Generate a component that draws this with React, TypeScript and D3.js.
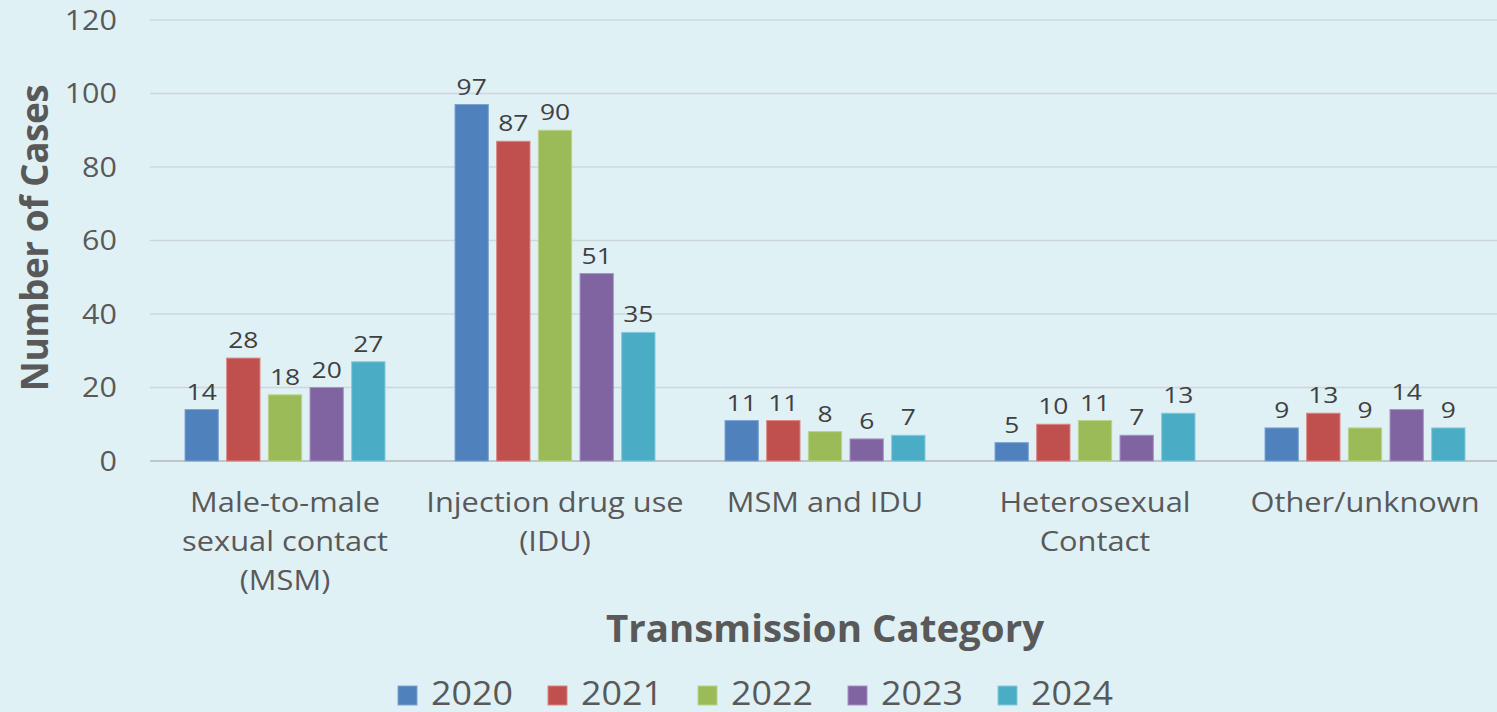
import React from "react";
import * as d3 from "d3";

const categories = [
  ["Male-to-male", "sexual contact", "(MSM)"],
  ["Injection drug use", "(IDU)"],
  ["MSM and IDU"],
  ["Heterosexual", "Contact"],
  ["Other/unknown"],
];
const years = ["2020", "2021", "2022", "2023", "2024"];
const colors = ["#4f81bd", "#c0504d", "#9bbb59", "#8064a2", "#4bacc6"];
const strokes = ["#7ea3d1", "#d88683", "#bcd38a", "#a792c0", "#85cbdc"];
const values2020 = [14, 97, 11, 5, 9];
const values2021 = [28, 87, 11, 10, 13];
const values2022 = [18, 90, 8, 11, 9];
const values2023 = [20, 51, 6, 7, 14];
const values2024 = [27, 35, 7, 13, 9];
const series = [values2020, values2021, values2022, values2023, values2024];
const yTicks = [0, 20, 40, 60, 80, 100, 120];

const W = 1497;
const H = 712;
const FONT = "'Open Sans', sans-serif";

function T({ x, y, sx = 1, anchor = "start", size, weight = "normal", fill = "#595959", children }: any) {
  return (
    <text
      transform={`translate(${x},${y}) scale(${sx},1)`}
      textAnchor={anchor}
      fontSize={size}
      fontWeight={weight}
      fill={fill}
    >
      {children}
    </text>
  );
}

export default function App() {
  const x0 = d3.scaleBand<number>().domain(d3.range(categories.length)).range([150, 1500]).paddingInner(0).paddingOuter(0);
  const x1 = d3.scaleBand<number>().domain(d3.range(years.length)).range([35, 235]).paddingInner(0.2);
  const y = d3.scaleLinear().domain([0, 120]).range([461, 20]);

  return (
    <svg width={W} height={H} style={{ position: "absolute", left: 0, top: 0, display: "block" }} fontFamily={FONT}>
      <rect x={0} y={0} width={W} height={H} fill="#e0f1f6" />
      {yTicks.map((t) => (
        <g key={t}>
          <line x1={150} x2={1497} y1={y(t)} y2={y(t)} stroke={t === 0 ? "#bfc6c9" : "#cdd7db"} strokeWidth={t === 0 ? 2 : 1.5} />
          <T x={117} y={y(t) + 9.5} anchor="end" size={27} sx={1.13}>{t}</T>
        </g>
      ))}
      {categories.map((c, ci) => (
        <g key={ci} transform={`translate(${x0(ci)},0)`}>
          {series.map((s, si) => {
            const v = s[ci];
            const bx = x1(si)!;
            return (
              <g key={si}>
                <rect x={bx} y={y(v)} width={x1.bandwidth()} height={y(0) - y(v)} fill={colors[si]} stroke={strokes[si]} strokeWidth={1} />
                <T x={bx + x1.bandwidth() / 2} y={y(v) - 10} anchor="middle" size={22} sx={1.2} fill="#404040">{v}</T>
              </g>
            );
          })}
          {c.map((line, li) => (
            <T key={li} x={x0.bandwidth() / 2} y={512 + li * 39} anchor="middle" size={27.5} sx={1.12}>{line}</T>
          ))}
        </g>
      ))}
      <text transform={`translate(48,238) rotate(-90)`} textAnchor="middle" fontSize={37} fontWeight="bold" fill="#595959" letterSpacing={-0.5}>Number of Cases</text>
      <T x={825} y={642} anchor="middle" size={37} weight="bold" sx={1.04}>Transmission Category</T>
      {years.map((yr, i) => (
        <g key={yr} transform={`translate(${398 + i * 150},0)`}>
          <rect x={0} y={686} width={19} height={19} fill={colors[i]} stroke={strokes[i]} />
          <T x={33} y={705} size={32} sx={1.12}>{yr}</T>
        </g>
      ))}
    </svg>
  );
}
